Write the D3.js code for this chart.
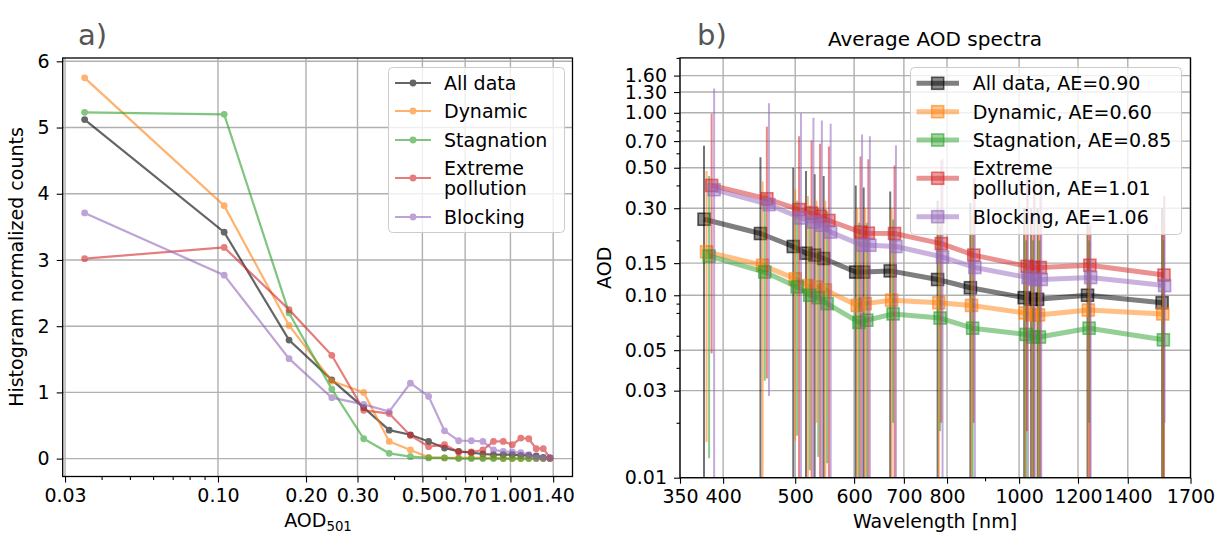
<!DOCTYPE html>
<html><head><meta charset="utf-8">
<script src="https://cdn.jsdelivr.net/npm/d3@7"></script>
<style>
body{margin:0;background:#fff;}
text{font-family:"DejaVu Sans",sans-serif;}
</style></head>
<body>
<script>
// ---------- Panel a) data ----------
const aodBins = [0.035,0.105,0.175,0.245,0.315,0.385,0.455,0.525,0.595,0.665,0.735,0.805,0.875,0.945,1.015,1.085,1.155,1.225,1.295,1.365];
const histAll        = [5.12,3.42,1.79,1.19,0.77,0.43,0.36,0.26,0.16,0.11,0.09,0.07,0.06,0.06,0.06,0.05,0.05,0.04,0.02,0.01];
const histDynamic    = [5.75,3.82,2.01,1.17,1.00,0.26,0.13,0.02,0.01,0.01,0.01,0.01,0.01,0.00,0.00,0.00,0.00,0.00,0.00,0.00];
const histStagnation = [5.23,5.20,2.20,1.05,0.30,0.08,0.03,0.01,0.01,0.00,0.00,0.00,0.00,0.00,0.00,0.00,0.00,0.00,0.00,0.00];
const histExtreme    = [3.02,3.19,2.25,1.56,0.73,0.68,0.35,0.18,0.21,0.10,0.10,0.13,0.26,0.26,0.21,0.31,0.30,0.15,0.15,0.01];
const histBlocking   = [3.71,2.77,1.51,0.92,0.82,0.71,1.14,0.94,0.42,0.27,0.27,0.26,0.13,0.11,0.10,0.09,0.06,0.02,0.01,0.01];
const histLabels = ["All data","Dynamic","Stagnation","Extreme\npollution","Blocking"];
const xTicksA = [0.03,0.10,0.20,0.30,0.50,0.70,1.00,1.40];
const xMinorA = [0.04,0.05,0.06,0.07,0.08,0.09,0.4,0.6,0.8,0.9];
const yTicksA = [0,1,2,3,4,5,6];

// ---------- Panel b) data ----------
const wavelengths = [383,455,503,523,537,552,609,624,677,783,866,1022,1044,1065,1242,1563];
const seriesOffsetNm = [-6,-3,0,3,6];
const aodAll        = [0.261,0.218,0.185,0.170,0.166,0.159,0.134,0.134,0.136,0.122,0.110,0.097,0.095,0.095,0.100,0.091];
const aodDynamic    = [0.173,0.146,0.123,0.113,0.111,0.107,0.088,0.090,0.094,0.091,0.088,0.080,0.078,0.078,0.083,0.079];
const aodStagnation = [0.164,0.134,0.111,0.100,0.097,0.090,0.071,0.073,0.079,0.075,0.066,0.061,0.059,0.059,0.066,0.057];
const aodExtreme    = [0.400,0.338,0.295,0.282,0.271,0.257,0.222,0.219,0.218,0.192,0.166,0.144,0.142,0.142,0.146,0.129];
const aodBlocking   = [0.379,0.314,0.265,0.252,0.242,0.222,0.188,0.188,0.185,0.162,0.142,0.125,0.122,0.122,0.125,0.113];
const hiAll        = [0.66,0.57,0.50,0.48,0.46,0.45,0.40,0.39,0.37,0.33,0.32,0.30,0.30,0.30,0.26,0.30];
const hiDynamic    = [0.48,0.42,0.38,0.35,0.33,0.33,0.30,0.30,0.30,0.28,0.27,0.25,0.25,0.25,0.24,0.26];
const hiStagnation = [0.45,0.36,0.33,0.31,0.30,0.29,0.25,0.25,0.26,0.24,0.22,0.20,0.20,0.20,0.20,0.20];
const hiExtreme    = [0.99,0.84,0.745,0.705,0.676,0.654,0.576,0.557,0.515,0.55,0.44,0.43,0.42,0.42,0.24,0.35];
const hiBlocking   = [1.36,1.13,0.995,0.94,0.907,0.87,0.76,0.745,0.662,0.56,0.44,0.44,0.44,0.44,0.25,0.35];
const loAll        = [0.001,0.001,0.001,0.001,0.001,0.001,0.001,0.001,0.001,0.001,0.001,0.001,0.001,0.001,0.001,0.001];
const loDynamic    = [0.0157,0.001,0.016,0.001,0.02,0.001,0.001,0.001,0.001,0.001,0.001,0.001,0.001,0.001,0.001,0.001];
const loStagnation = [0.0128,0.034,0.017,0.011,0.013,0.012,0.001,0.001,0.02,0.018,0.001,0.001,0.001,0.001,0.02,0.001];
const loExtreme    = [0.048,0.035,0.001,0.001,0.001,0.001,0.001,0.001,0.001,0.02,0.02,0.018,0.001,0.001,0.001,0.001];
const loBlocking   = [0.001,0.028,0.001,0.001,0.001,0.001,0.001,0.001,0.001,0.001,0.001,0.001,0.001,0.001,0.001,0.02];
const aodLabels = ["All data, AE=0.90","Dynamic, AE=0.60","Stagnation, AE=0.85","Extreme\npollution, AE=1.01","Blocking, AE=1.06"];
const xTicksB = [350,400,500,600,700,800,1000,1200,1400,1700];
const xMinorB = [900];
const yTicksB = [0.01,0.03,0.05,0.10,0.15,0.30,0.50,0.70,1.00,1.30,1.60];
const yMinorB = [0.02,0.04,0.06,0.08,0.09,0.2,0.4,0.6,0.8,0.9,2.0];

const colors = ["#000000","#ff7f0e","#2ca02c","#d62728","#9467bd"];

const FS = 19;
const svg = d3.select("body").append("svg").attr("width",1215).attr("height",536);
const defs = svg.append("defs");

function styleAxis(g){
  g.select(".domain").remove();
  g.selectAll(".tick line").attr("stroke","#000").attr("stroke-width",1.1);
  g.selectAll(".tick text").attr("font-size",FS).attr("fill","#000").attr("font-family","DejaVu Sans");
}

function panel(x, y, xt, xminor, yt, yminor, fmtX, fmtY, id){
  const [x0,x1]=x.range(), [y0,y1]=y.range();
  defs.append("clipPath").attr("id",id).append("rect").attr("x",x0).attr("y",y1).attr("width",x1-x0).attr("height",y0-y1);
  const grid = svg.append("g");
  xt.forEach(v=>grid.append("line").attr("x1",x(v)).attr("x2",x(v)).attr("y1",y1).attr("y2",y0).attr("stroke","#b0b0b0").attr("stroke-width",1.4));
  yt.forEach(v=>grid.append("line").attr("y1",y(v)).attr("y2",y(v)).attr("x1",x0).attr("x2",x1).attr("stroke","#b0b0b0").attr("stroke-width",1.4));
  const gx = svg.append("g").attr("transform",`translate(0,${y0})`)
    .call(d3.axisBottom(x).tickValues(xt).tickFormat(fmtX).tickSize(6).tickSizeOuter(0).tickPadding(6));
  styleAxis(gx);
  if(xminor.length){
    const gxm = svg.append("g").attr("transform",`translate(0,${y0})`)
      .call(d3.axisBottom(x).tickValues(xminor).tickFormat("").tickSize(3.5).tickSizeOuter(0));
    styleAxis(gxm);
  }
  const gy = svg.append("g").attr("transform",`translate(${x0},0)`)
    .call(d3.axisLeft(y).tickValues(yt).tickFormat(fmtY).tickSize(6).tickSizeOuter(0).tickPadding(7));
  styleAxis(gy);
  if(yminor.length){
    const gym = svg.append("g").attr("transform",`translate(${x0},0)`)
      .call(d3.axisLeft(y).tickValues(yminor.filter(v=>v<=y.domain()[1]+1e-9)).tickFormat("").tickSize(3.5).tickSizeOuter(0));
    styleAxis(gym);
  }
  return {x0,x1,y0,y1};
}

// ---------------- Panel a ----------------
const xA = d3.scaleLog().domain([0.02945,1.63]).range([62.7,572.5]);
const yA = d3.scaleLinear().domain([-0.27,6.05]).range([476.5,58]);
const fA = panel(xA,yA,xTicksA,xMinorA,yTicksA,[],d3.format(".2f"),d3.format("d"),"clipA");

const histSeries = [histAll,histDynamic,histStagnation,histExtreme,histBlocking];
const dA = svg.append("g").attr("clip-path","url(#clipA)");
const lineA = d3.line().x((d,i)=>xA(aodBins[i])).y(d=>yA(d));
histSeries.forEach((s,k)=>{
  const g = dA.append("g").attr("opacity",0.6);
  g.append("path").attr("d",lineA(s)).attr("fill","none").attr("stroke",colors[k]).attr("stroke-width",2.2);
  g.selectAll("circle").data(s).join("circle")
    .attr("cx",(d,i)=>xA(aodBins[i])).attr("cy",d=>yA(d)).attr("r",3.4).attr("fill",colors[k]);
});

// frame a
svg.append("rect").attr("x",fA.x0).attr("y",fA.y1).attr("width",fA.x1-fA.x0).attr("height",fA.y0-fA.y1)
  .attr("fill","none").attr("stroke","#000").attr("stroke-width",1.3);

// legend a
const legA = svg.append("g");
legA.append("rect").attr("x",388.5).attr("y",67.5).attr("width",176).attr("height",165).attr("rx",4)
  .attr("fill","#fff").attr("fill-opacity",0.8).attr("stroke","#cccccc").attr("stroke-width",1);
const legAy = [83,111,140,178,217];
histLabels.forEach((lab,k)=>{
  const cy = legAy[k];
  const g = legA.append("g").attr("opacity",0.6);
  g.append("line").attr("x1",395).attr("x2",431).attr("y1",cy).attr("y2",cy).attr("stroke",colors[k]).attr("stroke-width",2.2);
  g.append("circle").attr("cx",413).attr("cy",cy).attr("r",3.4).attr("fill",colors[k]);
  const lines = lab.split("\n");
  lines.forEach((t,j)=>{
    legA.append("text").attr("x",444).attr("y",cy+6.8 + (j-(lines.length-1)/2)*20.5).attr("font-size",FS).text(t);
  });
});

// labels a
svg.append("text").attr("transform","translate(23,267) rotate(-90)").attr("text-anchor","middle").attr("font-size",FS).text("Histogram normalized counts");
const xlabA = svg.append("text").attr("x",318).attr("y",527).attr("text-anchor","middle").attr("font-size",FS);
xlabA.append("tspan").text("AOD");
xlabA.append("tspan").attr("font-size",FS*0.7).attr("dy",4).text("501");
svg.append("text").attr("x",78).attr("y",45).attr("font-size",29).attr("fill","#555").text("a)");

// ---------------- Panel b ----------------
const xB = d3.scaleLog().domain([350,1700]).range([680,1190.5]);
const yB = d3.scaleLog().domain([0.01,2]).range([477.7,57.9]);
const fB = panel(xB,yB,xTicksB,xMinorB,yTicksB,yMinorB,d3.format("d"),d3.format(".2f"),"clipB");

const aodSeries = [aodAll,aodDynamic,aodStagnation,aodExtreme,aodBlocking];
const hiSeries = [hiAll,hiDynamic,hiStagnation,hiExtreme,hiBlocking];
const loSeries = [loAll,loDynamic,loStagnation,loExtreme,loBlocking];
const dB = svg.append("g").attr("clip-path","url(#clipB)");
aodSeries.forEach((s,k)=>{
  const wx = i => xB(wavelengths[i]+seriesOffsetNm[k]);
  const g = dB.append("g");
  const eb = g.append("g").attr("opacity",0.55);
  s.forEach((d,i)=>{
    eb.append("line").attr("x1",wx(i)).attr("x2",wx(i))
      .attr("y1",yB(Math.max(loSeries[k][i],0.005))).attr("y2",yB(hiSeries[k][i]))
      .attr("stroke",colors[k]).attr("stroke-width",2);
  });
  const line = d3.line().x((d,i)=>wx(i)).y(d=>yB(d));
  g.append("path").attr("d",line(s)).attr("fill","none").attr("stroke",colors[k]).attr("stroke-width",5).attr("stroke-opacity",0.5).attr("stroke-linejoin","round");
  g.selectAll("rect").data(s).join("rect")
    .attr("x",(d,i)=>wx(i)-6).attr("y",d=>yB(d)-6).attr("width",12).attr("height",12)
    .attr("fill",colors[k]).attr("fill-opacity",0.45).attr("stroke",colors[k]).attr("stroke-opacity",0.6).attr("stroke-width",1.6);
});

svg.append("rect").attr("x",fB.x0).attr("y",fB.y1).attr("width",fB.x1-fB.x0).attr("height",fB.y0-fB.y1)
  .attr("fill","none").attr("stroke","#000").attr("stroke-width",1.3);

// legend b
const legB = svg.append("g");
legB.append("rect").attr("x",910.5).attr("y",67.5).attr("width",271).attr("height",167).attr("rx",4)
  .attr("fill","#fff").attr("fill-opacity",0.8).attr("stroke","#cccccc").attr("stroke-width",1);
const legBy = [83.3,111.7,140,178.3,216.7];
aodLabels.forEach((lab,k)=>{
  const cy = legBy[k];
  legB.append("line").attr("x1",916.5).attr("x2",959).attr("y1",cy).attr("y2",cy).attr("stroke",colors[k]).attr("stroke-width",5).attr("stroke-opacity",0.5);
  legB.append("rect").attr("x",937.7-6).attr("y",cy-6).attr("width",12).attr("height",12)
    .attr("fill",colors[k]).attr("fill-opacity",0.45).attr("stroke",colors[k]).attr("stroke-opacity",0.6).attr("stroke-width",1.6);
  const lines = lab.split("\n");
  lines.forEach((t,j)=>{
    legB.append("text").attr("x",972.7).attr("y",cy+6.8 + (j-(lines.length-1)/2)*20).attr("font-size",FS).text(t);
  });
});

svg.append("text").attr("transform","translate(611,267.8) rotate(-90)").attr("text-anchor","middle").attr("font-size",FS).text("AOD");
svg.append("text").attr("x",935).attr("y",528).attr("text-anchor","middle").attr("font-size",FS).text("Wavelength [nm]");
svg.append("text").attr("x",935).attr("y",46).attr("text-anchor","middle").attr("font-size",20).text("Average AOD spectra");
svg.append("text").attr("x",697).attr("y",45).attr("font-size",29).attr("fill","#555").text("b)");
</script>
</body></html>
